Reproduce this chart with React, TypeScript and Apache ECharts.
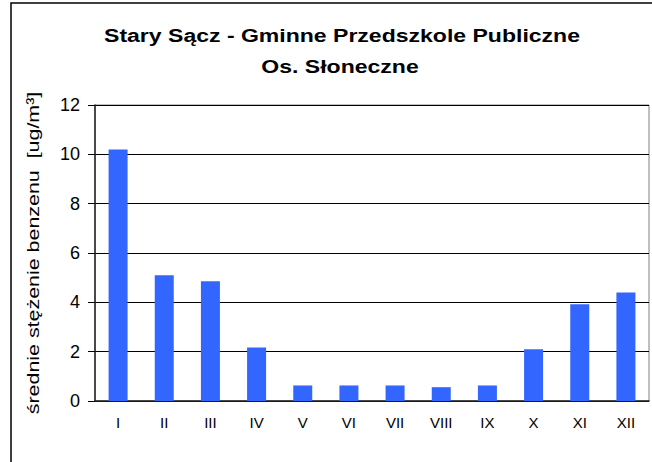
import React, { useEffect, useRef } from "react";
import * as echarts from "echarts";

const TITLE_LINE_1 = "Stary Sącz - Gminne Przedszkole Publiczne";
const TITLE_LINE_2 = "Os. Słoneczne";
const Y_NAME = "średnie stężenie benzenu  [ug/m³]";
const MONTHS = ["I", "II", "III", "IV", "V", "VI", "VII", "VIII", "IX", "X", "XI", "XII"];
const BENZENE = [10.2, 5.1, 4.85, 2.17, 0.63, 0.63, 0.63, 0.56, 0.63, 2.1, 3.92, 4.4];
const Y_MIN = 0;
const Y_MAX = 12;
const Y_STEP = 2;

const FONT = "Arial, 'Liberation Sans', sans-serif";

export default function App() {
  const ref = useRef<HTMLDivElement>(null);

  useEffect(() => {
    if (!ref.current) return;
    const chart = echarts.init(ref.current, undefined, { renderer: "svg" });
    chart.setOption({
      animation: false,
      backgroundColor: "#ffffff",
      grid: {
        left: 95,
        top: 105,
        right: 3,
        bottom: 61,
        show: true,
        borderColor: "#808080",
        borderWidth: 1,
        containLabel: false,
      },
      xAxis: {
        type: "category",
        data: MONTHS,
        axisLine: { show: true, lineStyle: { color: "#222", width: 1.5 } },
        axisTick: { show: false },
        axisLabel: {
          color: "#000",
          fontFamily: FONT,
          fontSize: 15,
          margin: 14,
        },
        splitLine: { show: false },
      },
      yAxis: {
        type: "value",
        min: Y_MIN,
        max: Y_MAX,
        interval: Y_STEP,
        axisLine: { show: true, lineStyle: { color: "#222", width: 1.5 } },
        axisTick: { show: true, length: 7, inside: false, lineStyle: { color: "#000", width: 1 } },
        axisLabel: {
          color: "#000",
          fontFamily: FONT,
          fontSize: 18,
          margin: 15,
        },
        splitLine: { show: true, lineStyle: { color: "#000", width: 1 } },
      },
      series: [
        {
          type: "bar",
          data: BENZENE,
          barWidth: 19,
          itemStyle: { color: "#3366FF" },
          silent: true,
        },
      ],
      graphic: [
        {
          type: "rect",
          shape: { x: 11, y: 3, width: 800, height: 600 },
          style: { fill: "none", stroke: "#000", lineWidth: 1.5 },
          silent: true,
        },
        {
          type: "text",
          x: 342,
          y: 35,
          scaleX: 1.28,
          style: {
            text: TITLE_LINE_1,
            fontFamily: FONT,
            fontWeight: "bold",
            fontSize: 18,
            fill: "#000",
            align: "center",
            verticalAlign: "middle",
          },
        },
        {
          type: "text",
          x: 340,
          y: 66,
          scaleX: 1.28,
          style: {
            text: TITLE_LINE_2,
            fontFamily: FONT,
            fontWeight: "bold",
            fontSize: 18,
            fill: "#000",
            align: "center",
            verticalAlign: "middle",
          },
        },
        {
          type: "text",
          x: 33,
          y: 253,
          rotation: Math.PI / 2,
          scaleX: 1.26,
          style: {
            text: Y_NAME,
            fontFamily: FONT,
            fontSize: 17,
            fill: "#000",
            align: "center",
            verticalAlign: "middle",
          },
        },
      ],
    });
    return () => chart.dispose();
  }, []);

  return (
    <div
      ref={ref}
      style={{ position: "fixed", left: 0, top: 0, width: 652, height: 462 }}
    />
  );
}
